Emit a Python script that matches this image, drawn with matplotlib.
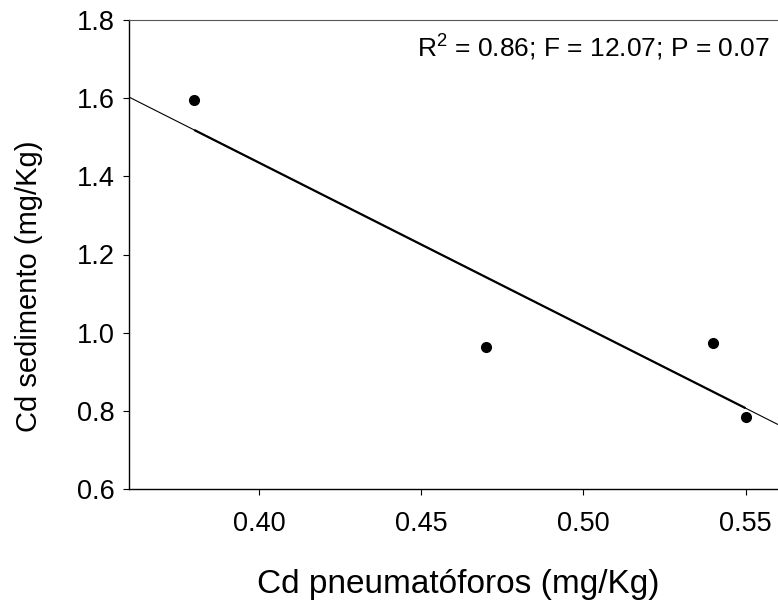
import numpy as np
import matplotlib
matplotlib.use("Agg")
import matplotlib.pyplot as plt

plt.rcParams['font.family'] = ['Liberation Sans', 'DejaVu Sans']
plt.rcParams['mathtext.fontset'] = 'custom'
plt.rcParams['mathtext.rm'] = 'Liberation Sans'
plt.rcParams['mathtext.it'] = 'Liberation Sans'

# Data
cd_pneumatoforos = [0.38, 0.47, 0.54, 0.55]
cd_sedimento = [1.595, 0.964, 0.974, 0.783]
x_ticks = [0.40, 0.45, 0.50, 0.55]
y_ticks = [0.6, 0.8, 1.0, 1.2, 1.4, 1.6, 1.8]
annotation = r"R$^2$ = 0.86; F = 12.07; P = 0.07"
x_label = "Cd pneumatóforos (mg/Kg)"
y_label = "Cd sedimento (mg/Kg)"

W, H = 778, 603
fig = plt.figure(figsize=(W / 100, H / 100), dpi=100)
ax = fig.add_axes([129.3 / W, 1 - 489 / H, 1 - 129.3 / W, (489 - 20) / H])

x = np.array(cd_pneumatoforos)
y = np.array(cd_sedimento)
slope, intercept = np.polyfit(x, y, 1)

xlim = (0.36, 0.56)
xf = np.array(xlim)
ax.plot(xf, slope * xf + intercept, color='black', lw=0.8, solid_capstyle='butt')
xd = np.array([x.min(), x.max()])
ax.plot(xd, slope * xd + intercept, color='black', lw=1.6, solid_capstyle='butt')

ax.plot(x, y, 'o', color='black', ms=7, zorder=5)

ax.set_xlim(*xlim)
ax.set_ylim(0.6, 1.8)
ax.set_xticks(x_ticks)
ax.set_xticklabels([f"{v:.2f}" for v in x_ticks])
ax.set_yticks(y_ticks)
ax.set_yticklabels([f"{v:.1f}" for v in y_ticks])
ax.tick_params(direction='out', length=4.5, width=0.8, labelsize=19.5, colors='black')
ax.tick_params(axis='x', pad=11)
ax.tick_params(axis='y', pad=6)

ax.spines['right'].set_visible(False)
ax.spines['top'].set_color('#555555')
for s in ['left', 'bottom']:
    ax.spines[s].set_linewidth(1.0)

fig.text(458 / W, 1 - 593 / H, x_label, fontsize=24, ha='center', va='baseline')
fig.text(29 / W, 1 - 286 / H, y_label, fontsize=21, ha='center', va='center',
         rotation=90)

ax.text(0.5575, 1.728, annotation, ha='right', va='center', fontsize=19)

fig.savefig("out.png", dpi=100)
